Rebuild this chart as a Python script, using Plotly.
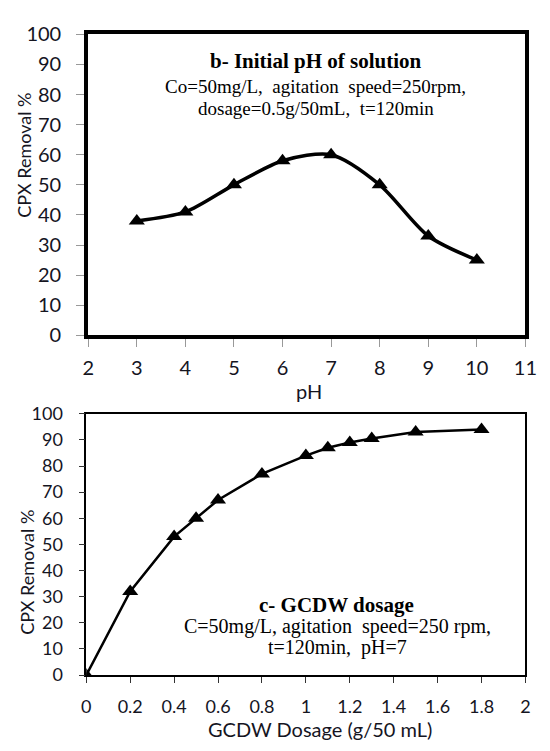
import plotly.graph_objects as go

# Panel b data
ph = [3, 4, 5, 6, 7, 8, 9, 10]
removal_ph = [38, 41, 50, 58, 60, 50, 33, 25]

# Panel c data
dosage = [0, 0.2, 0.4, 0.5, 0.6, 0.8, 1.0, 1.1, 1.2, 1.3, 1.5, 1.8]
removal_dose = [0, 32, 53, 60, 67, 77, 84, 87, 89, 90.5, 93, 94]

ph_ticks = [2, 3, 4, 5, 6, 7, 8, 9, 10, 11]
dose_ticks = [0, 0.2, 0.4, 0.6, 0.8, 1, 1.2, 1.4, 1.6, 1.8, 2]
dose_ticklabels = ["0", "0.2", "0.4", "0.6", "0.8", "1", "1.2", "1.4", "1.6", "1.8", "2"]
y_ticks = list(range(0, 101, 10))

W, H = 550, 751
def px(x):
    return x / W
def py(y):
    return 1 - y / H

SANS = "Lato, Open Sans, sans-serif"
SERIF = "Liberation Serif, Times New Roman, serif"
TXT = "#15151f"

fig = go.Figure()
fig.add_trace(go.Scatter(
    x=ph, y=removal_ph, mode="lines+markers",
    line=dict(color="black", width=3.5, shape="spline", smoothing=0.8),
    marker=dict(symbol="triangle-up", size=14, color="black"),
    xaxis="x", yaxis="y", showlegend=False))
fig.add_trace(go.Scatter(
    x=dosage, y=removal_dose, mode="lines+markers",
    line=dict(color="black", width=2.5),
    marker=dict(symbol="triangle-up", size=14, color="black"),
    xaxis="x2", yaxis="y2", showlegend=False))

fig.update_layout(
    width=W, height=H, margin=dict(l=0, r=0, t=0, b=0),
    paper_bgcolor="white", plot_bgcolor="white",
    xaxis=dict(domain=[px(85), px(537)], anchor="y", range=[2, 11],
               tickvals=ph_ticks, showgrid=False, zeroline=False,
               showline=True, linecolor="black", linewidth=4, mirror=True,
               ticks="outside", ticklen=8, tickcolor="#999", tickwidth=1,
               ticklabelstandoff=4,
               tickfont=dict(family=SANS, size=20, color=TXT)),
    yaxis=dict(domain=[py(333), py(22)], anchor="x", range=[0, 100],
               tickvals=y_ticks, showgrid=False, zeroline=False,
               showline=True, linecolor="black", linewidth=4, mirror=True,
               ticks="outside", ticklen=8, tickcolor="#999", tickwidth=1,
               ticklabelstandoff=11,
               tickfont=dict(family=SANS, size=20, color=TXT)),
    xaxis2=dict(domain=[px(83), px(537)], anchor="y2", range=[0, 2],
                tickvals=dose_ticks, ticktext=dose_ticklabels, showgrid=False, zeroline=False,
                showline=True, linecolor="black", linewidth=1.5, mirror=True,
                ticks="outside", ticklen=6, tickcolor="#333", tickwidth=1.2,
                ticklabelstandoff=9,
                tickfont=dict(family=SANS, size=18, color=TXT)),
    yaxis2=dict(domain=[py(684), py(414)], anchor="x2", range=[0, 100],
                tickvals=y_ticks, showgrid=False, zeroline=False,
                showline=True, linecolor="black", linewidth=1.5, mirror=True,
                ticks="outside", ticklen=6, tickcolor="#333", tickwidth=1.2,
                ticklabelstandoff=12,
                tickfont=dict(family=SANS, size=18, color=TXT)),
)

# axis titles
titles = [
    (19, 147, "CPX Removal %", 18, -90),
    (21, 578, "CPX Removal %", 18, -90),
    (313, 390, "pH", 20, 0),
    (325, 740, "GCDW Dosage (g/50 mL)", 20, 0),
]
for x, y, t, s, ang in titles:
    fig.add_annotation(x=px(x), y=py(y), xref="paper", yref="paper", text=t, showarrow=False,
                       xanchor="center", yanchor="middle", textangle=ang,
                       font=dict(family=SANS, size=s, color=TXT))

ann = [
    (320, 50, "<b>b- Initial pH of solution</b>", 21),
    (320, 76, "Co=50mg/L,  agitation  speed=250rpm,", 19),
    (320, 99, "dosage=0.5g/50mL,  t=120min", 19),
    (342, 612, "<b>c- GCDW dosage</b>", 21),
    (343, 634, "C=50mg/L, agitation  speed=250 rpm,", 20),
    (343, 655, "t=120min,  pH=7", 20),
]
for x, y, t, s in ann:
    fig.add_annotation(x=px(x), y=py(y), xref="paper", yref="paper", text=t, showarrow=False,
                       xanchor="center", yanchor="middle",
                       font=dict(family=SERIF, size=s, color="black"))

fig.write_html("out.html")
